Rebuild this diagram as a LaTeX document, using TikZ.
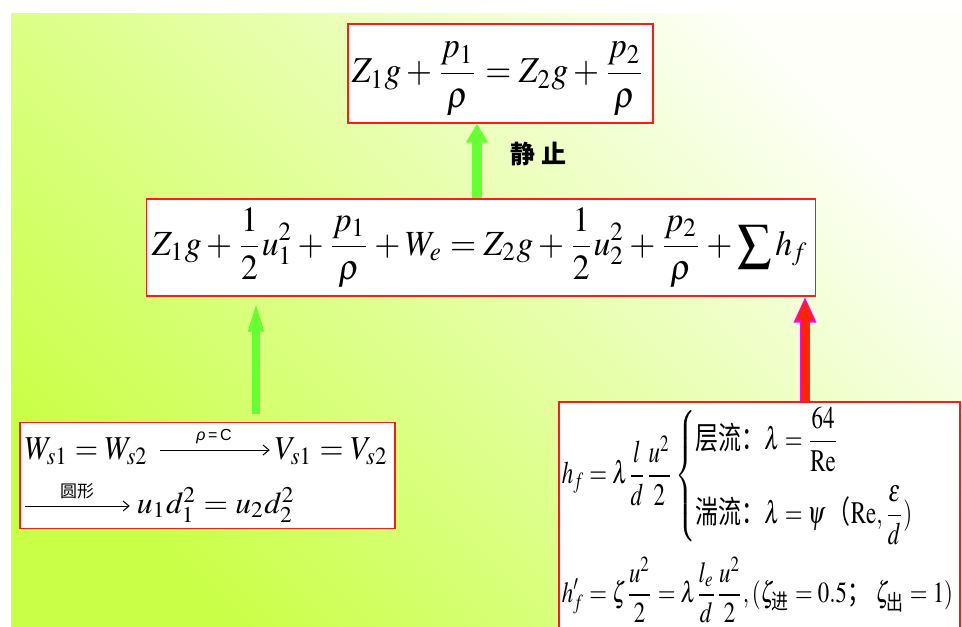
\documentclass[tikz,border=0pt]{standalone}
\usepackage{amsmath}
\usepackage{mathptmx}
\usepackage{graphicx}
\usepackage[no-math]{fontspec}
\setmainfont{Liberation Serif}
\newfontfamily\cjk{Noto Sans CJK SC}
\newfontfamily\arialf{Liberation Sans}
\usetikzlibrary{arrows.meta,calc}
\definecolor{bgdark}{RGB}{202,255,72}
\definecolor{bglight}{RGB}{253,255,248}
\definecolor{boxred}{RGB}{255,25,25}
\definecolor{agreen}{RGB}{102,255,51}
\definecolor{ared}{RGB}{255,35,0}
\definecolor{amag}{RGB}{255,0,255}
\tikzset{
  eqbox/.style={draw=boxred, line width=1.3pt, fill=white, inner sep=0pt},
  eqtext/.style={inner sep=0pt},
  garrow/.style={draw=agreen},
  thinarrow/.style={line width=1pt, -{Straight Barb[length=6pt,width=10pt]}},
  smalllabel/.style={inner sep=0pt},
}
\begin{document}
\begin{tikzpicture}[x=1pt,y=-1pt]
\useasboundingbox (0,0) rectangle (962,627);
\fill[white] (0,0) rectangle (962,627);
\shade[top color=bglight, bottom color=bgdark, shading angle=-45] (11,13) rectangle (962,627);

% boxes
\node[eqbox, minimum width=305pt, minimum height=99pt] (top) at (500.5,73.5) {};
\node[eqbox, minimum width=669pt, minimum height=97pt] (mid) at (481,247.5) {};
\node[eqbox, minimum width=375pt, minimum height=106pt] (cont) at (207.5,475.5) {};
\node[eqbox, minimum width=401pt, minimum height=240pt] (loss) at (759.5,522) {};

% formulas
\node[eqtext] (eqtop) at (498.5,79) {\resizebox*{293pt}{74pt}{$\displaystyle Z_1g+\frac{p_1}{\rho}=Z_2g+\frac{p_2}{\rho}$}};
\node[eqtext] (eqmid) at (480,248) {\resizebox*{656pt}{80pt}{$\displaystyle Z_1g+\frac{1}{2}u_1^2+\frac{p_1}{\rho}+W_e=Z_2g+\frac{1}{2}u_2^2+\frac{p_2}{\rho}+\sum h_f$}};

% continuity box
\node[eqtext] (ws) at (86.5,451.5) {\resizebox*{123pt}{27pt}{$W_{s1}=W_{s2}$}};
\node[eqtext] (vs) at (331.5,451.5) {\resizebox*{113pt}{27pt}{$V_{s1}=V_{s2}$}};
\draw[thinarrow] ([xshift=12pt,yshift=1.5pt]ws.east) -- ([xshift=-5pt,yshift=1.5pt]vs.west);
\node[smalllabel, font=\arialf\fontsize{16}{16}\selectfont] (rhoc) at (214,437) {\textit{ρ}\,=\,C};
\node[eqtext] (ud) at (216,504.5) {\resizebox*{158pt}{35pt}{$u_1d_1^2=u_2d_2^2$}};
\coordinate (a2start) at (25,506);
\draw[thinarrow, shorten >=7pt] (a2start) -- (ud.west |- a2start);
\node[smalllabel, font=\cjk\fontsize{17}{17}\selectfont] (circ) at (77,491) {圆形};

% loss box
\node[eqtext] (lossA) at (738.5,476) {\resizebox*{353pt}{138pt}{$\displaystyle h_f=\lambda\frac{l}{d}\frac{u^2}{2}\left\{\begin{array}{@{}l@{}}\text{\cjk 层流：}\lambda=\dfrac{64}{\mathrm{Re}}\\[8pt]\text{\cjk 湍流：}\lambda=\psi\,\text{\cjk （}\mathrm{Re},\dfrac{\varepsilon}{d})\end{array}\right.$}};
\node[eqtext] (lossB) at (757.5,590) {\resizebox*{391pt}{65pt}{$\displaystyle h_f^{\prime}=\zeta\frac{u^2}{2}=\lambda\frac{l_e}{d}\frac{u^2}{2},(\zeta_{\text{\cjk 进}}=0.5\text{\cjk ；}\ \zeta_{\text{\cjk 出}}=1)$}};

\node[font=\cjk\bfseries\fontsize{25}{25}\selectfont, inner sep=0pt] (still) at (538,154) {静\hspace{6pt}止};

% arrows
\coordinate (ax1) at (477,0);
\draw[garrow, line width=10pt, -{Triangle[width=21pt,length=19pt]}] (mid.north -| ax1) -- (top.south -| ax1);
\coordinate (lstart) at (256,414);
\draw[garrow, line width=8pt, -{Triangle[width=13pt,length=35pt]}] (lstart) -- (mid.south -| lstart);
\coordinate (ax3) at (805,0);
\draw[draw=amag, line width=10.5pt, -{Triangle[width=21pt,length=26pt]}] (loss.north -| ax3) -- (mid.south -| ax3);
\draw[draw=ared, line width=7.5pt, shorten >=2.5pt, -{Triangle[width=16pt,length=21pt]}] (loss.north -| ax3) -- (mid.south -| ax3);
\end{tikzpicture}
\end{document}
